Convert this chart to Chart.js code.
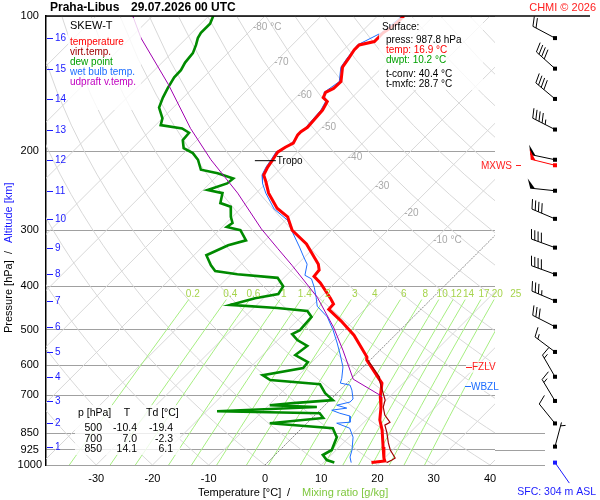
<!DOCTYPE html>
<html>
<head>
<meta charset="utf-8">
<script src="https://cdn.jsdelivr.net/npm/chart.js@4.4.1/dist/chart.umd.min.js"></script>
<style>
html, body { margin: 0; padding: 0; background: #fff; }
canvas { display: block; }
</style>
</head>
<body>
<canvas id="skewt" width="600" height="500"></canvas>
<script>
// skew of the isotherms (degC per decade of pressure)
const SKEW = 80;

// axes
const pressureTicks = [100, 200, 300, 400, 500, 600, 700, 850, 925, 1000];
const tempTicks = [-30, -20, -10, 0, 10, 20, 30, 40];

// altitude scale (km) and matching pressure
const altKm = [1, 2, 3, 4, 5, 6, 7, 8, 9, 10, 11, 12, 13, 14, 15, 16];
const altP = [910, 808, 720, 636, 560, 492, 431, 376, 328, 283, 245, 209, 179, 153, 131, 112];

// wind at the altitude levels
const windDir = [15, 321, 329, 330, 307, 297, 293, 290, 290, 293, 276, 282, 297, 310, 312, 298];
const windSpd = [3, 10, 15, 15, 15, 30, 35, 40, 40, 40, 50, 50, 45, 40, 40, 20];

// temperature
const tempP = [100,103,106,109,114,116,119,124,130,140,145,148,152,155,162,169,177,181,184,192,196,201,209,217,226,234,248,268,280,300,322,357,368,380,393,425,438,450,478,514,575,584,637,657,706,743,794,836,912,965,980,987.8];
const tempT = [-55.3,-55.3,-55.5,-56.0,-56.0,-58.1,-58.1,-57.6,-57.1,-54.8,-54.9,-55.6,-55.1,-53.7,-53.0,-52.8,-52.6,-53.0,-53.0,-52.3,-53.0,-53.5,-53.0,-52.6,-51.9,-50.3,-47.8,-43.6,-40.2,-37.0,-32.0,-26.3,-25.1,-24.9,-22.6,-18.1,-16.5,-16.4,-12.1,-7.3,-1.1,-0.6,4.4,6.2,8.4,10.3,12.4,14.6,17.8,19.9,20.6,18.5];

// virtual temperature (lower part, above it lies under the temperature)
const virtP = [584,637,647,681,717,743,774,803,815,845,893,926,965,975,987.8];
const virtT = [-0.4,4.7,5.2,7.5,9.8,10.7,12.4,14.6,14.2,15.8,18.0,19.6,21.9,21.7,21.2];

// dew point
const dewP = [100,104,109,112,116,121,127,132,137,145,152,160,169,175,178,182,189,197,202,209,220,224,230,236,244,248,261,266,280,289,295,300,316,324,341,359,370,376,383,400,416,425,440,447,454,468,501,511,527,543,569,590,608,631,647,661,692,717,728,736,743,759,767,786,807,828,867,926,950,975,987.8];
const dewT = [-89.2,-88.4,-88.4,-88.0,-87.1,-86.2,-85.9,-85.3,-85.2,-84.4,-83.6,-82.5,-80.0,-79.1,-74.7,-72.7,-72.5,-70.9,-68.4,-66.3,-64.0,-60.4,-56.7,-56.9,-59.2,-56.0,-54.6,-52.1,-50.3,-48.9,-49.2,-46.2,-43.4,-45.7,-47.8,-45.2,-43.4,-38.9,-31.1,-28.6,-28.1,-31.5,-34.7,-25.8,-19.9,-18.1,-17.8,-18.5,-16.5,-13.7,-14.2,-10.7,-10.5,-16.4,-14.2,-4.6,-2.1,0.5,-6.0,-9.8,-1.1,-18.1,0.5,2.0,-6.6,5.5,7.8,9.2,8.5,10.1,11.9];

// wet bulb temperature
const wetP = [100,109,116,124,130,140,148,155,162,177,192,201,209,217,226,236,248,269,285,303,327,344,357,378,385,402,423,443,468,501,535,569,605,641,657,664,681,713,724,736,747,755,767,778,803,807,828,867,926,960,987.8];
const wetT = [-55.6,-56.3,-58.4,-57.9,-57.4,-55.1,-55.9,-54.0,-53.3,-52.9,-52.6,-53.8,-53.3,-52.9,-52.2,-50.6,-48.3,-44.0,-39.6,-36.6,-32.7,-30.2,-28.3,-26.7,-24.9,-22.9,-20.8,-19.0,-15.3,-11.9,-8.9,-6.2,-3.6,-1.8,-1.2,0.9,2.1,3.9,3.9,2.1,4.4,2.1,4.1,6.4,7.5,5.3,8.5,10.7,12.8,13.7,14.9];

// updraft virtual temperature
const parcelP = [100,112,142,178,209,248,298,329,359,423,493,555,644,699,706];
const parcelT = [-103.5,-98.1,-85.0,-73.2,-64.0,-53.3,-42.7,-36.4,-30.8,-20.6,-12.4,-6.6,0.4,8.0,8.7];

// mixing ratio lines (g/kg)
const mixRatios = [0.2, 0.4, 0.6, 1, 1.4, 2, 3, 4, 6, 8, 10, 12, 14, 17, 20, 25];

// levels
const tropoP = 210, tropoT = -53.0;
const mxwsP = 215, mxwsDir = 284, mxwsSpd = 50;
const fzlvP = 604, wbzlP = 667;
const sfcP = 987.8, sfcDir = 145, sfcSpd = 0;

// surface values and table
const sfcInfo = ['press: 987.8 hPa', 'temp: 16.9 °C', 'dwpt: 10.2 °C', 't-conv: 40.4 °C', 't-mxfc: 28.7 °C'];
const tableP = ['500', '700', '850'];
const tableT = ['-10.4', '7.0', '14.1'];
const tableTd = ['-19.4', '-2.3', '6.1'];

const FONT = '"Liberation Sans", Arial, sans-serif';

const toX = (t, p) => t + SKEW * Math.log10(1000 / p);
const pts = (P, T) => P.map((p, i) => ({x: toX(T[i], p), y: p}));

function line(data, color, width, order, dash) {
    return {
        data: data,
        borderColor: color,
        borderWidth: width,
        borderDash: dash || [],
        pointRadius: 0,
        showLine: true,
        fill: false,
        tension: 0,
        order: order
    };
}

function dewFromMix(w, p) {
    const e = w * p / (622 + w);
    const l = Math.log(e / 6.112);
    return 243.5 * l / (17.67 - l);
}

// background: isotherms, dry adiabats, mixing ratio lines
const background = [];
for (let t = -120; t <= 40; t += 10) {
    if (t === 0) continue;
    background.push(line([{x: toX(t, 1000), y: 1000}, {x: toX(t, 100), y: 100}], '#d8d8d8', 1, 12));
}
background.push(line([{x: toX(0, 1000), y: 1000}, {x: toX(0, 100), y: 100}], '#8a8a8a', 1, 11, [2, 1]));
for (let th = -30; th <= 200; th += 10) {
    const d = [];
    for (let p = 1000; p >= 100; p -= 25) {
        d.push({x: toX((th + 273.15) * Math.pow(p / 1000, 0.2857) - 273.15, p), y: p});
    }
    background.push(line(d, '#d8d8d8', 1, 12));
}
mixRatios.forEach(w => {
    const d = [];
    for (let p = 1000; p >= 428; p -= 44) d.push({x: toX(dewFromMix(w, p), p), y: p});
    d.push({x: toX(dewFromMix(w, 428), 428), y: 428});
    background.push(line(d, '#a6ee80', 1, 11));
});

const profiles = [
    line(pts(parcelP, parcelT), '#a000b0', 1, 0),
    line(pts(dewP, dewT), '#008a00', 2.6, 1),
    line(pts(virtP, virtT), '#a00000', 1.2, 2),
    line(pts(tempP, tempT), '#ff0000', 3, 3),
    line(pts(wetP, wetT), '#1e6eff', 1, 4)
];

function txt(ctx, s, x, y, color, size, align, bold) {
    ctx.font = (bold ? 'bold ' : '') + size + 'px ' + FONT;
    ctx.fillStyle = color;
    ctx.textAlign = align || 'left';
    ctx.textBaseline = 'middle';
    ctx.fillText(s, x, y);
}

function box(ctx, x1, y1, x2, y2) {
    ctx.fillStyle = 'rgba(255,255,255,0.8)';
    ctx.fillRect(x1, y1, x2 - x1, y2 - y1);
}

function drawBarb(ctx, x0, y0, dir, spd, color) {
    const a = dir * Math.PI / 180;
    const ux = Math.sin(a), uy = -Math.cos(a);
    const L = 25;
    const tx = x0 + ux * L, ty = y0 + uy * L;
    const r = 70 * Math.PI / 180;
    const fx = ux * Math.cos(r) - uy * Math.sin(r);
    const fy = ux * Math.sin(r) + uy * Math.cos(r);
    ctx.strokeStyle = color;
    ctx.fillStyle = color;
    ctx.lineWidth = 1;
    ctx.beginPath();
    ctx.moveTo(x0, y0);
    ctx.lineTo(tx, ty);
    ctx.stroke();
    let s = Math.round(spd / 5) * 5;
    let pos = 0;
    const fl = 10;
    while (s >= 50) {
        const bx = tx - ux * pos, by = ty - uy * pos;
        ctx.beginPath();
        ctx.moveTo(bx, by);
        ctx.lineTo(bx + fx * fl, by + fy * fl);
        ctx.lineTo(bx - ux * 5, by - uy * 5);
        ctx.closePath();
        ctx.fill();
        pos += 6.5;
        s -= 50;
    }
    while (s >= 10) {
        const bx = tx - ux * pos, by = ty - uy * pos;
        ctx.beginPath();
        ctx.moveTo(bx, by);
        ctx.lineTo(bx + fx * fl, by + fy * fl);
        ctx.stroke();
        pos += 3.5;
        s -= 10;
    }
    if (s >= 5) {
        if (pos === 0) pos = 3.5;
        const bx = tx - ux * pos, by = ty - uy * pos;
        ctx.beginPath();
        ctx.moveTo(bx, by);
        ctx.lineTo(bx + fx * fl / 2, by + fy * fl / 2);
        ctx.stroke();
    }
    ctx.fillRect(x0 - 2, y0 - 2, 4, 4);
}

const decor = {
    id: 'decor',
    beforeDatasetsDraw(chart) {
        const {ctx, chartArea: a, scales: {y}} = chart;
        ctx.save();
        ctx.strokeStyle = '#a0a0a0';
        ctx.lineWidth = 1;
        [850, 925, 1000].forEach(p => {
            const py = Math.round(y.getPixelForValue(p)) + 0.5;
            ctx.beginPath();
            ctx.moveTo(a.right, py);
            ctx.lineTo(545, py);
            ctx.stroke();
        });
        ctx.restore();
    },
    afterDatasetsDraw(chart) {
        const {ctx, chartArea: a, scales: {x, y}} = chart;
        ctx.save();

        // top border
        ctx.strokeStyle = '#000';
        ctx.lineWidth = 1.5;
        ctx.beginPath();
        ctx.moveTo(a.left, a.top);
        ctx.lineTo(590, a.top);
        ctx.stroke();

        // isotherm labels
        const isoLab = [[-80, 105.8, '-80 °C'], [-70, 126.6, '-70'], [-60, 149.9, '-60'], [-50, 176.6, '-50'],
            [-40, 206, '-40'], [-30, 239, '-30'], [-20, 274.5, '-20'], [-10, 315.5, '-10 °C']];
        isoLab.forEach(([t, p, s]) => {
            txt(ctx, s, x.getPixelForValue(toX(t, p)) - 1, y.getPixelForValue(p), '#a8a8a8', 10);
        });

        // mixing ratio labels
        mixRatios.forEach(w => {
            txt(ctx, String(w), x.getPixelForValue(toX(dewFromMix(w, 416), 416)), y.getPixelForValue(416), '#a6d44c', 10, 'center');
        });

        // altitude scale
        ctx.strokeStyle = '#1a1aff';
        ctx.lineWidth = 1;
        altKm.forEach((km, i) => {
            const py = Math.round(y.getPixelForValue(altP[i])) + 0.5;
            ctx.beginPath();
            ctx.moveTo(a.left + 1, py);
            ctx.lineTo(a.left + 7, py);
            ctx.stroke();
            txt(ctx, String(km), a.left + 9, py, '#1a1aff', 10);
        });

        // tropopause
        const tx = x.getPixelForValue(toX(tropoT, tropoP)), ty = y.getPixelForValue(tropoP);
        ctx.strokeStyle = '#000';
        ctx.beginPath();
        ctx.moveTo(tx - 17, ty);
        ctx.lineTo(tx + 4, ty);
        ctx.stroke();
        txt(ctx, 'Tropo', tx + 5, ty + 1, '#000', 10);

        // legend
        box(ctx, 68, 18, 141, 110);
        txt(ctx, 'SKEW-T', 70, 26, '#000', 11);
        txt(ctx, 'temperature', 70, 42, '#ff0000', 10);
        txt(ctx, 'virt.temp.', 70, 52, '#a00000', 10);
        txt(ctx, 'dew point', 70, 62, '#00a000', 10);
        txt(ctx, 'wet bulb temp.', 70, 72, '#1e6eff', 10);
        txt(ctx, 'udpraft v.temp.', 70, 82, '#c000c0', 10);

        // surface info
        box(ctx, 379, 18, 483, 90);
        txt(ctx, 'Surface:', 382, 27, '#000', 10);
        txt(ctx, sfcInfo[0], 386, 40, '#000', 10);
        txt(ctx, sfcInfo[1], 386, 50, '#ff0000', 10);
        txt(ctx, sfcInfo[2], 386, 60, '#00a000', 10);
        txt(ctx, sfcInfo[3], 386, 74, '#000', 10);
        txt(ctx, sfcInfo[4], 386, 84, '#000', 10);

        // table
        box(ctx, 75, 405, 180, 455);
        txt(ctx, 'p [hPa]', 78, 413, '#000', 10.5);
        txt(ctx, 'T', 127, 413, '#000', 10.5, 'center');
        txt(ctx, 'Td [°C]', 146, 413, '#000', 10.5);
        tableP.forEach((p, i) => {
            const ry = 428.5 + i * 10.3;
            txt(ctx, p, 102, ry, '#000', 10.5, 'right');
            txt(ctx, tableT[i], 137, ry, '#000', 10.5, 'right');
            txt(ctx, tableTd[i], 173, ry, '#000', 10.5, 'right');
        });

        // freezing and wet bulb zero levels
        const fy = y.getPixelForValue(fzlvP), wy = y.getPixelForValue(wbzlP);
        box(ctx, 466, fy - 6, 508, fy + 6);
        box(ctx, 465, wy - 6, 505, wy + 5);
        ctx.lineWidth = 1;
        ctx.strokeStyle = '#ff2020';
        ctx.beginPath();
        ctx.moveTo(466, Math.round(fy) + 0.5);
        ctx.lineTo(472, Math.round(fy) + 0.5);
        ctx.stroke();
        txt(ctx, 'FZLV', 472, fy + 1, '#ff2020', 10);
        ctx.strokeStyle = '#1e6eff';
        ctx.beginPath();
        ctx.moveTo(465, Math.round(wy) + 0.5);
        ctx.lineTo(471, Math.round(wy) + 0.5);
        ctx.stroke();
        txt(ctx, 'WBZL', 471, wy + 1, '#1e6eff', 10);

        // max wind label
        const my = y.getPixelForValue(mxwsP);
        txt(ctx, 'MXWS', 512, my + 1, '#ff2020', 10, 'right');
        ctx.strokeStyle = '#ff2020';
        ctx.beginPath();
        ctx.moveTo(516, Math.round(my) + 0.5);
        ctx.lineTo(521, Math.round(my) + 0.5);
        ctx.stroke();

        // titles
        txt(ctx, 'Praha-Libus', 50, 8, '#000', 12, 'left', true);
        txt(ctx, '29.07.2026 00 UTC', 131, 8, '#000', 12, 'left', true);
        txt(ctx, 'CHMI © 2026', 596, 8, '#ff2020', 11, 'right');
        txt(ctx, 'Temperature [°C]', 198, 493, '#000', 11);
        txt(ctx, '/', 287, 493, '#000', 11);
        txt(ctx, 'Mixing ratio [g/kg]', 302, 493, '#80c840', 11);
        txt(ctx, 'SFC: 304 m ASL', 596, 492, '#1a1aff', 10.5, 'right');

        ctx.save();
        ctx.translate(9, 333);
        ctx.rotate(-Math.PI / 2);
        txt(ctx, 'Pressure [hPa]', 0, 0, '#000', 11);
        txt(ctx, '/', 79, 0, '#000', 11);
        txt(ctx, 'Altitude [km]', 90, 0, '#1a1aff', 11);
        ctx.restore();

        ctx.restore();
    },
    afterDraw(chart) {
        const {ctx, scales: {y}} = chart;
        ctx.save();
        altP.forEach((p, i) => drawBarb(ctx, 555, y.getPixelForValue(p), windDir[i], windSpd[i], '#000'));
        drawBarb(ctx, 555, y.getPixelForValue(mxwsP), mxwsDir, mxwsSpd, '#ff0000');
        drawBarb(ctx, 555, y.getPixelForValue(sfcP), sfcDir, sfcSpd, '#1a1aff');
        ctx.restore();
    }
};

Chart.defaults.font.family = FONT;

new Chart(document.getElementById('skewt'), {
    type: 'scatter',
    data: {datasets: profiles.concat(background)},
    options: {
        responsive: false,
        animation: false,
        events: [],
        layout: {padding: {left: 0, top: 16, right: 105, bottom: 0}},
        plugins: {legend: {display: false}, tooltip: {enabled: false}},
        scales: {
            x: {
                type: 'linear',
                min: -38.93,
                max: 40.89,
                afterBuildTicks: s => { s.ticks = tempTicks.map(v => ({value: v})); },
                afterFit: s => { s.height = 35; },
                grid: {display: false, drawTicks: false},
                border: {display: false},
                ticks: {color: '#000', font: {size: 11}, padding: 7, maxRotation: 0, autoSkip: false}
            },
            y: {
                type: 'logarithmic',
                reverse: true,
                min: 100,
                max: 1000,
                afterBuildTicks: s => { s.ticks = pressureTicks.map(v => ({value: v})); },
                afterFit: s => { s.width = 46; },
                grid: {color: '#a0a0a0', lineWidth: 1, drawTicks: false},
                border: {color: '#000', width: 1.5},
                ticks: {color: '#000', font: {size: 11}, padding: 4, crossAlign: 'center', autoSkip: false,
                    callback: v => String(v)}
            }
        }
    },
    plugins: [decor]
});
</script>
</body>
</html>
